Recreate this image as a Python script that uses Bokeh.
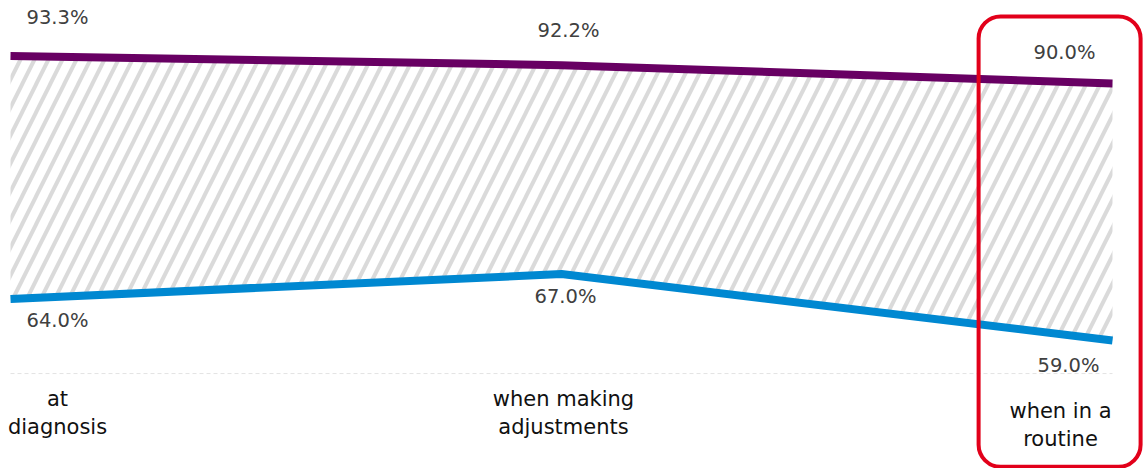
from bokeh.plotting import figure
from bokeh.models import Range1d, ColumnDataSource, BoxAnnotation
from bokeh.core.properties import value
from bokeh.embed import file_html
from bokeh.resources import INLINE

# ---- data ----
categories = ["at\ndiagnosis", "when making\nadjustments", "when in a\nroutine"]
upper_values = [93.3, 92.2, 90.0]
lower_values = [64.0, 67.0, 59.0]
grid_value = 55

x = list(range(len(categories)))

FONT = "DejaVu Sans"
PURPLE = "#680063"
BLUE = "#0088D1"

p = figure(width=1145, height=468, min_border=0,
           x_range=Range1d(-0.01815, 2.0599), y_range=Range1d(43.55, 100),
           output_backend="svg", toolbar_location=None)
p.axis.visible = False
p.grid.visible = False
p.outline_line_color = None
p.background_fill_color = "white"
p.border_fill_color = "white"

# faint dashed baseline
p.line(x=[x[0], x[-1]], y=[grid_value, grid_value], line_color="#e3e3e3",
       line_width=1, line_dash="4 3")

# hatched band between series
p.varea(x=x, y1=lower_values, y2=upper_values, fill_alpha=0,
        hatch_pattern="/", hatch_color="#dadada", hatch_weight=4, hatch_scale=28)

p.line(x=x, y=upper_values, line_color=PURPLE, line_width=8)
p.line(x=x, y=lower_values, line_color=BLUE, line_width=8)

# value labels
up_src = ColumnDataSource(dict(x=x, y=upper_values,
                               t=[f"{v:.1f}%" for v in upper_values],
                               xo=[47, 7, -48], yo=[-39, -35, -31]))
lo_src = ColumnDataSource(dict(x=x, y=lower_values,
                               t=[f"{v:.1f}%" for v in lower_values],
                               xo=[47, 4, -44], yo=[22, 22, 25]))
for src in (up_src, lo_src):
    p.text(x="x", y="y", text="t", x_offset="xo", y_offset="yo", source=src,
           text_font=value(FONT), text_font_size="19.5px", text_color="#404040",
           text_align="center", text_baseline="middle")

# category labels
cat_src = ColumnDataSource(dict(x=x, y=[grid_value] * len(x), t=categories,
                                xo=[47, 2, -52], yo=[13, 13, 25]))
p.text(x="x", y="y", text="t", x_offset="xo", y_offset="yo", source=cat_src,
       text_font=value(FONT), text_font_size="21px", text_color="#111111",
       text_align="center", text_baseline="top", text_line_height=1.2)

# highlight box around the last category
p.add_layout(BoxAnnotation(left=1.757, right=2.051, top=98.07, bottom=43.75,
                           fill_alpha=0, line_color="#E2001A", line_alpha=1.0,
                           line_width=4, border_radius=22))

open("out.html", "w").write(file_html(p, INLINE))
